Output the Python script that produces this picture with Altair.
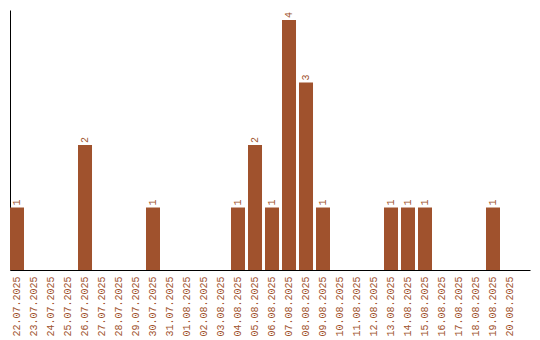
import altair as alt
import pandas as pd

dates = ["22.07.2025", "23.07.2025", "24.07.2025", "25.07.2025", "26.07.2025",
         "27.07.2025", "28.07.2025", "29.07.2025", "30.07.2025", "31.07.2025",
         "01.08.2025", "02.08.2025", "03.08.2025", "04.08.2025", "05.08.2025",
         "06.08.2025", "07.08.2025", "08.08.2025", "09.08.2025", "10.08.2025",
         "11.08.2025", "12.08.2025", "13.08.2025", "14.08.2025", "15.08.2025",
         "16.08.2025", "17.08.2025", "18.08.2025", "19.08.2025", "20.08.2025"]
counts = [1, 0, 0, 0, 2, 0, 0, 0, 1, 0,
          0, 0, 0, 1, 2, 1, 4, 3, 1, 0,
          0, 0, 1, 1, 1, 0, 0, 0, 1, 0]

df = pd.DataFrame({"date": dates, "count": counts})
df["label"] = df["count"].apply(lambda v: str(v) if v > 0 else "")

COLOR = "#A0522D"
FONT = "Liberation Mono"

xenc = alt.X("date:N", sort=dates, title=None,
             scale=alt.Scale(paddingInner=0.176, paddingOuter=0.382, align=0),
             axis=alt.Axis(labelAngle=-90, labelColor=COLOR, labelFont=FONT,
                           labelFontSize=10, ticks=False, domainColor="black",
                           labelPadding=6, grid=False, labelBaseline="middle"))
yenc = alt.Y("count:Q", title=None, scale=alt.Scale(domain=[0, 4.16], nice=False),
             axis=alt.Axis(labels=False, ticks=False, grid=False, domainColor="black"))

bars = alt.Chart(df).mark_bar(color=COLOR).encode(x=xenc, y=yenc)
text = alt.Chart(df).mark_text(angle=270, align="left", baseline="middle", dx=2,
                               color=COLOR, font=FONT, fontSize=10).encode(
    x=alt.X("date:N", sort=dates), y="count:Q", text="label:N")

chart = (bars + text).properties(
    width=520, height=260,
    autosize=alt.AutoSizeParams(type="none"),
    padding={"left": 10, "top": 10, "right": 10, "bottom": 70},
).configure_view(stroke=None)

chart.save("out.html", embed_options={"renderer": "svg", "actions": False})
